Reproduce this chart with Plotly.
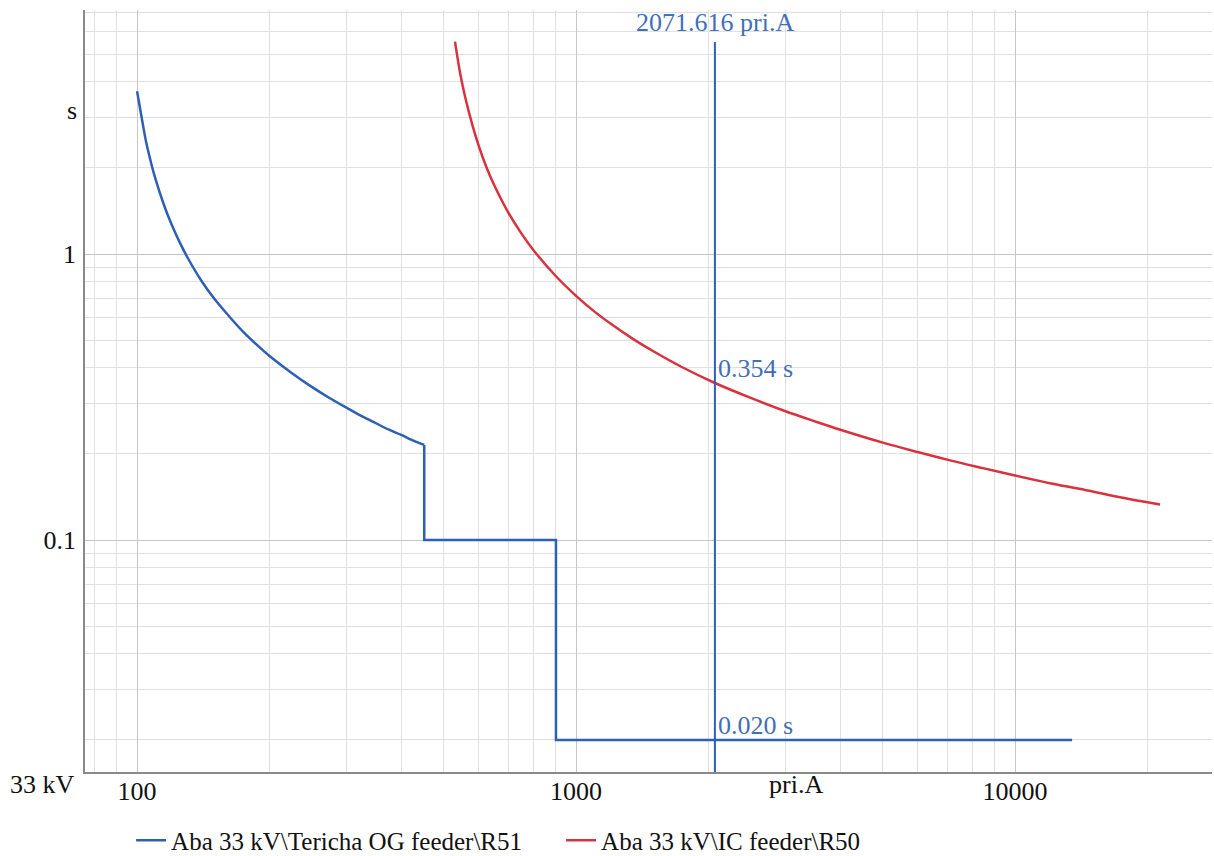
import math
import plotly.graph_objects as go

# Relay time-current characteristics, Aba 33 kV
# R51: inverse-time section, then definite-time stages
r51_curve_current = [100, 103, 105, 108, 110, 115, 120, 125, 130, 140, 150, 162, 175,
                     187, 200, 225, 250, 275, 300, 325, 350, 375, 400, 425, 451]
r51_curve_time = [3.708, 2.860, 2.442, 2.040, 1.842, 1.493, 1.262, 1.100, 0.978,
                  0.808, 0.697, 0.606, 0.532, 0.483, 0.441, 0.384, 0.343, 0.313,
                  0.290, 0.271, 0.256, 0.243, 0.233, 0.223, 0.215]
r51_step_current = [451, 451, 900, 900, 13490]
r51_step_time = [0.215, 0.100, 0.100, 0.020, 0.020]

r50_current = [530, 545, 560, 580, 600, 625, 650, 700, 750, 800, 900, 1000, 1100,
               1200, 1350, 1500, 1750, 2071.616, 2500, 3000, 3500, 4000, 5000, 6000,
               7000, 8500, 10000, 12000, 14000, 17000, 21400]
r50_time = [5.525, 4.250, 3.495, 2.840, 2.392, 2.010, 1.750, 1.402, 1.183, 1.031,
            0.836, 0.714, 0.630, 0.570, 0.504, 0.457, 0.401, 0.354, 0.314, 0.282,
            0.260, 0.243, 0.219, 0.203, 0.191, 0.178, 0.168, 0.158, 0.151, 0.142,
            0.133]

cursor_current = 2071.616
cursor_r50_time = 0.354
cursor_r51_time = 0.020

x_major = [100, 1000, 10000]
x_major_text = ["100", "1000", "10000"]
y_major = [0.1, 1]
y_major_text = ["0.1", "1"]

x_range = [76.1, 28100]
y_range = [0.01545, 7.13]

BLUE = "#2c5fb5"
RED = "#d8323e"
LABEL_BLUE = "#3f6fb8"
FONT = "Liberation Serif"


def minor_values(lo, hi):
    vals = []
    for e in range(math.floor(math.log10(lo)) - 1, math.ceil(math.log10(hi)) + 1):
        for m in range(2, 10):
            v = m * 10 ** e
            if lo <= v <= hi:
                vals.append(v)
    return vals


fig = go.Figure()
fig.add_trace(go.Scatter(
    x=r51_curve_current, y=r51_curve_time, mode="lines",
    name="Aba 33 kV\\Tericha OG feeder\\R51", legendgroup="r51",
    line=dict(color=BLUE, width=2.5, shape="spline", smoothing=1.0),
))
fig.add_trace(go.Scatter(
    x=r51_step_current, y=r51_step_time, mode="lines",
    name="Aba 33 kV\\Tericha OG feeder\\R51", legendgroup="r51", showlegend=False,
    line=dict(color=BLUE, width=2.5),
))
fig.add_trace(go.Scatter(
    x=r50_current, y=r50_time, mode="lines",
    name="Aba 33 kV\\IC feeder\\R50",
    line=dict(color=RED, width=2.5, shape="spline", smoothing=1.0),
))

# cursor line
fig.add_shape(type="line", xref="x", yref="paper",
              x0=cursor_current, x1=cursor_current, y0=0, y1=0.958,
              line=dict(color=BLUE, width=2))

ann_font = dict(family=FONT, size=26, color=LABEL_BLUE)
fig.add_annotation(x=math.log10(cursor_current), xref="x", y=1, yref="paper",
                   yanchor="top", xanchor="center", yshift=4, showarrow=False,
                   text=f"{cursor_current:.3f} pri.A", font=ann_font)
fig.add_annotation(x=math.log10(cursor_current), xref="x",
                   y=math.log10(cursor_r50_time), yref="y",
                   xanchor="left", yanchor="bottom", xshift=1, yshift=-2,
                   showarrow=False, text=f"{cursor_r50_time:.3f} s", font=ann_font)
fig.add_annotation(x=math.log10(cursor_current), xref="x",
                   y=math.log10(cursor_r51_time), yref="y",
                   xanchor="left", yanchor="bottom", xshift=1, yshift=-2,
                   showarrow=False, text=f"{cursor_r51_time:.3f} s", font=ann_font)

axis_font = dict(family=FONT, size=26, color="#111111")
# unit labels
fig.add_annotation(x=3.5, xref="x", y=0, yref="paper", yanchor="top",
                   yshift=4, showarrow=False, text="pri.A", font=axis_font)
fig.add_annotation(x=0, xref="paper", y=0.5, yref="y", xanchor="right",
                   xshift=-6, showarrow=False, text="s", font=axis_font)
fig.add_annotation(x=0, xref="paper", y=0, yref="paper", xanchor="right",
                   yanchor="top", xshift=-8, yshift=4, showarrow=False,
                   text="33 kV", font=axis_font)

fig.update_xaxes(
    type="log", range=[math.log10(x_range[0]), math.log10(x_range[1])],
    tickmode="array", tickvals=x_major, ticktext=x_major_text,
    tickfont=axis_font, showgrid=True, gridcolor="#c6c6c6", gridwidth=1,
    minor=dict(tickmode="array", tickvals=minor_values(*x_range),
               showgrid=True, gridcolor="#e0e0e0", gridwidth=1, ticks=""),
    showline=True, linecolor="#8a8a8a", linewidth=1.5, zeroline=False,
    ticks="", ticklabelstandoff=-5, automargin=False,
)
fig.update_yaxes(
    type="log", range=[math.log10(y_range[0]), math.log10(y_range[1])],
    tickmode="array", tickvals=y_major, ticktext=y_major_text,
    tickfont=axis_font, showgrid=True, gridcolor="#c6c6c6", gridwidth=1,
    minor=dict(tickmode="array", tickvals=minor_values(*y_range),
               showgrid=True, gridcolor="#e0e0e0", gridwidth=1, ticks=""),
    showline=True, linecolor="#8a8a8a", linewidth=1.5, zeroline=False,
    ticks="", ticklabelstandoff=2, automargin=False,
)

fig.update_layout(
    width=1214, height=856,
    margin=dict(l=85, r=2, t=10, b=84, autoexpand=False),
    paper_bgcolor="white", plot_bgcolor="white",
    font=dict(family=FONT, size=24, color="#111111"),
    showlegend=True,
    legend=dict(orientation="h", x=0.108, xref="container", xanchor="left",
                y=0.045, yref="container", yanchor="top",
                font=dict(family=FONT, size=25, color="#111111"),
                tracegroupgap=0, entrywidth=385, entrywidthmode="pixels"),
)

fig.write_html("out.html")
